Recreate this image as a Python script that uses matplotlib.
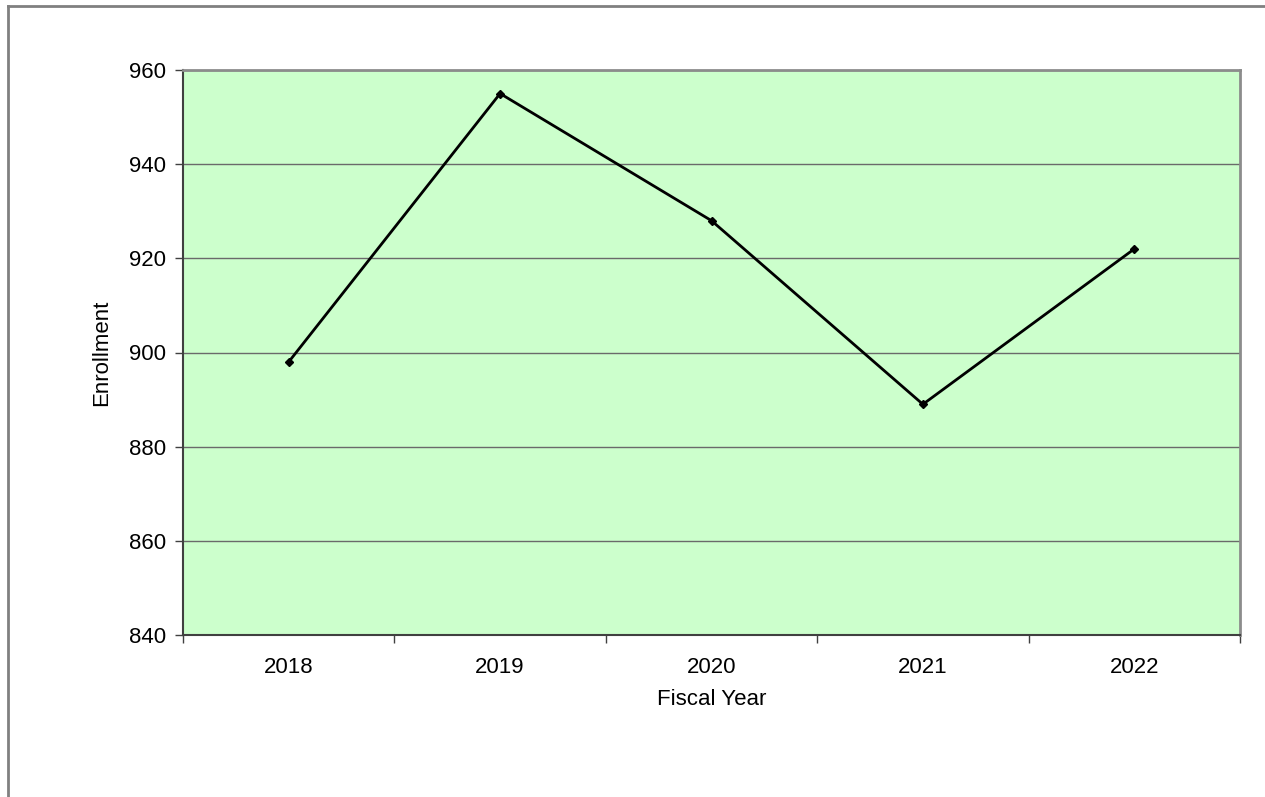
import matplotlib
matplotlib.use("Agg")
import matplotlib.pyplot as plt
from matplotlib.lines import Line2D
from matplotlib.ticker import FixedLocator, NullFormatter

years = ["2018", "2019", "2020", "2021", "2022"]
enrollment = [898, 955, 928, 889, 922]
y_ticks = [840, 860, 880, 900, 920, 940, 960]

plt.rcParams['font.family'] = ['Liberation Sans', 'DejaVu Sans']

fig = plt.figure(figsize=(12.65, 7.97), dpi=100)
fig.patch.set_facecolor('white')

# figure border (top and left only visible)
fig.add_artist(Line2D([8/1265, 8/1265], [0, 1 - 6/797], transform=fig.transFigure,
                      color='#808080', lw=2))
fig.add_artist(Line2D([8/1265, 1], [1 - 6/797, 1 - 6/797], transform=fig.transFigure,
                      color='#808080', lw=2))

ax = fig.add_axes([183/1265, 1 - 635/797, (1240 - 183)/1265, (635 - 70)/797])
ax.set_facecolor('#CCFFCC')

x = list(range(len(years)))
ax.set_xlim(-0.5, len(years) - 0.5)
ax.set_ylim(y_ticks[0], y_ticks[-1])
ax.set_yticks(y_ticks)
ax.yaxis.grid(True, color='#6a6a6a', lw=1)
ax.set_axisbelow(True)

ax.set_xticks(x)
ax.set_xticklabels(years)
ax.tick_params(axis='x', which='major', length=0, pad=16)
ax.xaxis.set_minor_locator(FixedLocator([i - 0.5 for i in range(len(years) + 1)]))
ax.xaxis.set_minor_formatter(NullFormatter())
ax.tick_params(axis='x', which='minor', length=6, width=1, color='#404040', direction='out')
ax.tick_params(axis='y', length=6, width=1, color='#404040', direction='out', pad=6)
ax.tick_params(labelsize=16)

ax.plot(x, enrollment, color='black', lw=2, marker='D', markersize=4)

for side in ['top', 'right']:
    ax.spines[side].set_color('#8c8c8c')
    ax.spines[side].set_linewidth(2)
for side in ['left', 'bottom']:
    ax.spines[side].set_color('#404040')
    ax.spines[side].set_linewidth(1.5)

ax.set_xlabel('Fiscal Year', fontsize=16, labelpad=8)
ax.set_ylabel('Enrollment', fontsize=16, labelpad=12)

fig.savefig('out.png', dpi=100)
